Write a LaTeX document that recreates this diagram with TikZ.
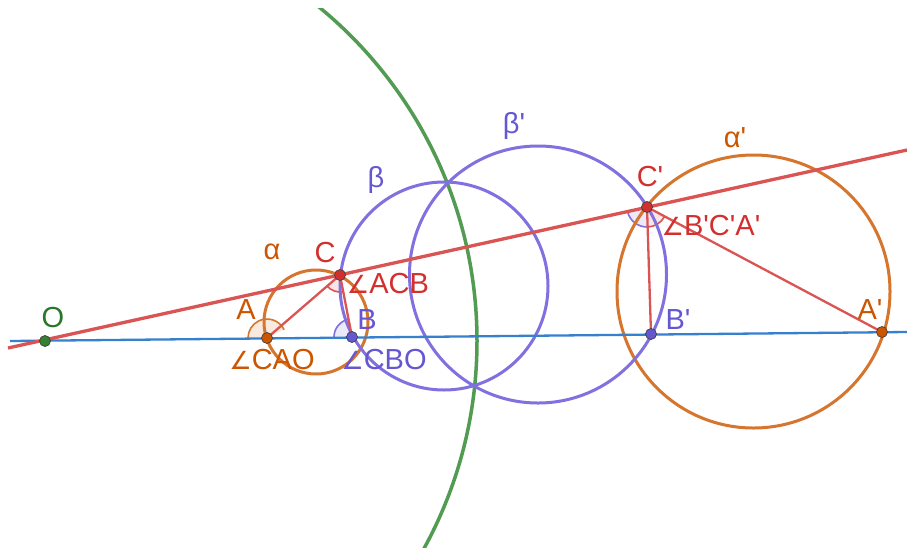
\documentclass[tikz,border=0pt]{standalone}
\usepackage{fontspec}
\setmainfont{Liberation Sans}[Ligatures=TeXOff]
\newfontfamily\djv{DejaVu Sans}
\definecolor{lred}{RGB}{218,84,84}
\definecolor{tred}{RGB}{211,47,47}
\definecolor{lblue}{RGB}{55,128,206}
\definecolor{lorange}{RGB}{214,117,45}
\definecolor{torange}{RGB}{204,85,0}
\definecolor{lpurple}{RGB}{128,112,224}
\definecolor{tpurple}{RGB}{101,87,210}
\definecolor{lgreen}{RGB}{82,155,82}
\definecolor{pgreen}{RGB}{50,130,50}
\definecolor{tgreen}{RGB}{40,120,40}
\newcommand{\ang}{{\djv\fontsize{25}{25}\selectfont ∠}}
\newcommand{\pr}{'}
\tikzset{
  pt/.style={circle,inner sep=0pt,minimum size=11pt,draw=black!75,line width=0.7pt,fill=#1},
  lbl/.style={font=\fontsize{29}{29}\selectfont,text=#1,inner sep=0pt,anchor=center},
  circ/.style={line width=3pt,draw=#1},
  seg/.style={line width=2.3pt,draw=lred},
  angsec/.style={fill=#1,fill opacity=0.15},
  angarc/.style={draw=#1,line width=1.6pt}
}
\begin{document}
\begin{tikzpicture}[x=1pt,y=-1pt]
\useasboundingbox (0,0) rectangle (907,547);
\fill[white] (0,0) rectangle (907,547);
% points
\coordinate (O) at (45,341);
\coordinate (A) at (267,338);
\coordinate (B) at (352,337);
\coordinate (C) at (340,275);
\coordinate (Cp) at (647,207);
\coordinate (Bp) at (651,334);
\coordinate (Ap) at (882,332);
\coordinate (RL1) at (8,348);
\coordinate (RL2) at (907,150);
\coordinate (BL1) at (10,341);
\coordinate (BL2) at (907,332);
% angle sectors
\fill[angsec=lorange] (A) -- ++(-26:19) arc (-26:-180.8:19) -- cycle;
\draw[angarc=lorange] (A) ++(-26:19) arc (-26:-180.8:19);
\fill[angsec=lpurple] (B) -- ++(-101:18) arc (-101:-180.7:18) -- cycle;
\draw[angarc=lpurple] (B) ++(-101:18) arc (-101:-180.7:18);
\fill[angsec=lred] (C) -- ++(79:17) arc (79:139.2:17) -- cycle;
\draw[angarc=lred] (C) ++(79:17) arc (79:139.2:17);
\fill[angsec=lpurple] (Cp) -- ++(88.2:20) arc (88.2:167.5:20) -- cycle;
\draw[angarc=lpurple] (Cp) ++(88.2:20) arc (88.2:167.5:20);
\fill[angsec=lred] (Cp) -- ++(28:20) arc (28:88.2:20) -- cycle;
\draw[angarc=lred] (Cp) ++(28:20) arc (28:88.2:20);
% circles
\begin{scope}
\clip (0,8) rectangle (907,547);
\draw[line width=3.5pt,draw=lgreen] (O) circle (432);
\end{scope}
\draw[circ=lorange] (316,322) circle (52);
\draw[circ=lorange] (753.5,291.5) circle (136.5);
\draw[circ=lpurple] (444,286) circle (104);
\draw[circ=lpurple] (538,274.5) circle (128.5);
% lines
\draw[line width=2.3pt,draw=lblue] (BL1) -- (BL2);
\draw[line width=3.3pt,draw=lred] (RL1) -- (RL2);
% segments
\draw[seg] (A) -- (C);
\draw[seg] (C) -- (B);
\draw[seg] (Cp) -- (Bp);
\draw[seg] (Cp) -- (Ap);
% point markers
\node[pt=pgreen] at (O) {};
\node[pt=torange] at (A) {};
\node[pt=tpurple] at (B) {};
\node[pt=tred] at (C) {};
\node[pt=tred] at (Cp) {};
\node[pt=tpurple] at (Bp) {};
\node[pt=torange] at (Ap) {};
% labels
\node[lbl=tgreen] (lO) at (53,318) {O};
\node[lbl=torange] (lA) at (246,310) {A};
\node[lbl=torange] (lal) at (272,252) {α};
\node[lbl=tred] (lC) at (325,253) {C};
\node[lbl=tred] (lACB) at (388,284) {\ang ACB};
\node[lbl=tpurple] (lB) at (367,320) {B};
\node[lbl=torange] (lCAO) at (272,360) {\ang CAO};
\node[lbl=tpurple] (lCBO) at (384,360) {\ang CBO};
\node[lbl=tpurple] (lbe) at (376,180) {β};
\node[lbl=tpurple] (lbep) at (514,126) {β\pr};
\node[lbl=tred] (lCp) at (650,177) {C\pr};
\node[lbl=torange] (lalp) at (735,138) {α\pr};
\node[lbl=tred] (lBCA) at (711,226) {\ang B\pr C\pr A\pr};
\node[lbl=tpurple] (lBp) at (678,320) {B\pr};
\node[lbl=torange] (lAp) at (870,310) {A\pr};
\end{tikzpicture}
\end{document}
